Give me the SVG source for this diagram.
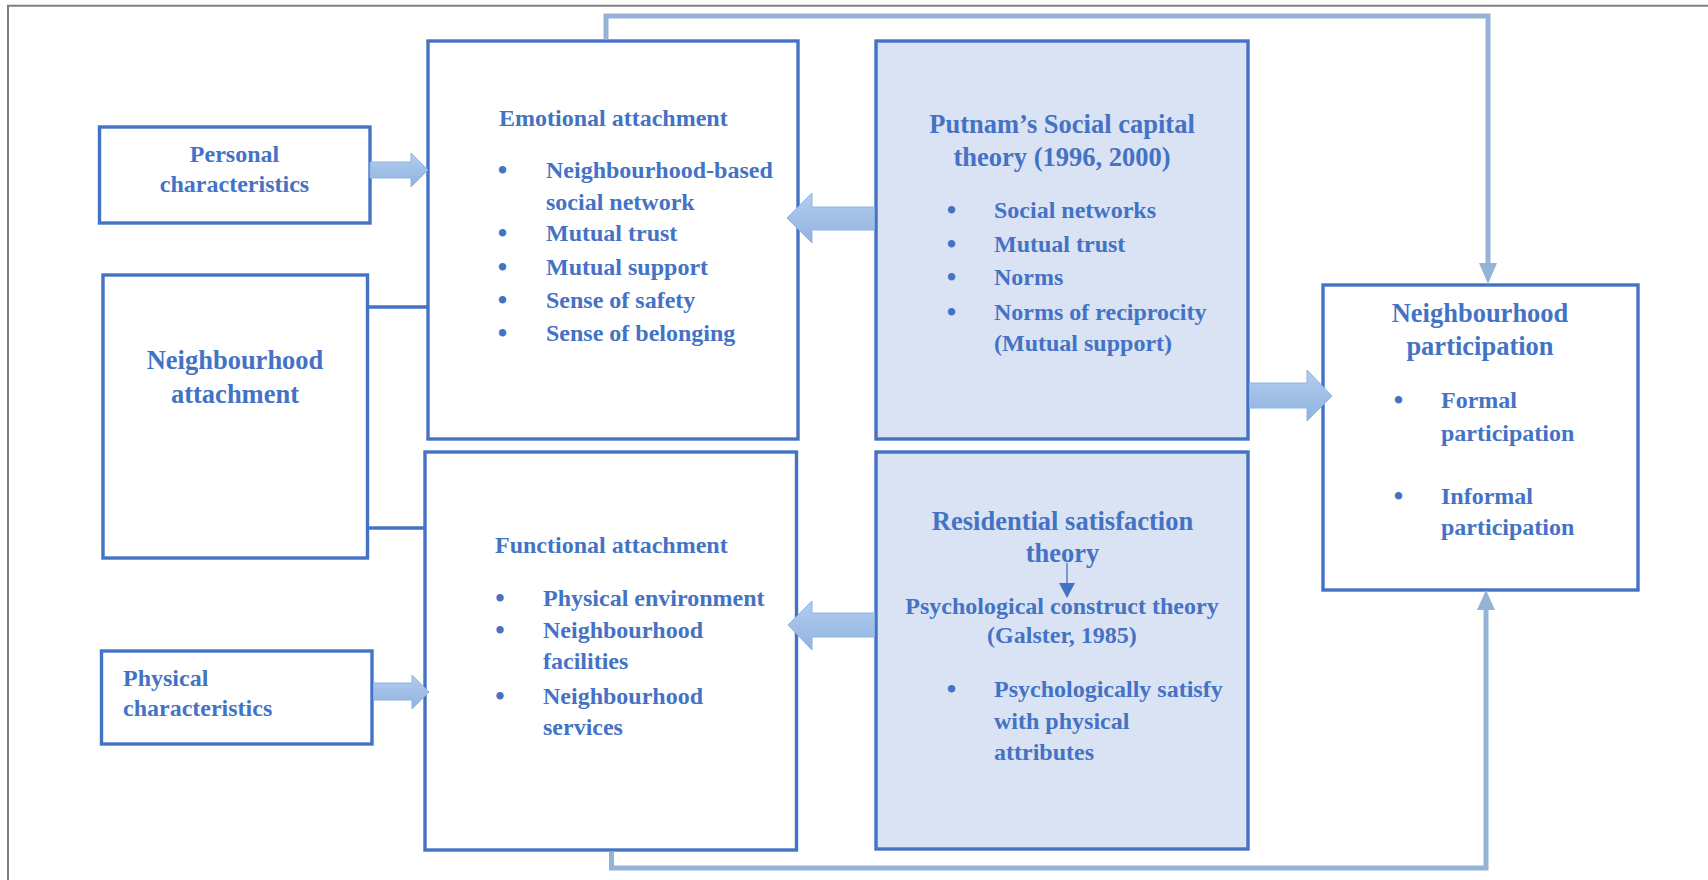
<svg xmlns="http://www.w3.org/2000/svg" width="1708" height="880" viewBox="0 0 1708 880">
  <defs>
    <style>
      .box { fill: #ffffff; stroke: #4472C4; stroke-width: 3.4; }
      .theory { fill: #DAE3F3; stroke: #4472C4; stroke-width: 3.4; }
      .t { font-family: "Liberation Serif", "Times New Roman", serif; font-weight: bold; fill: #4472C4; font-size: 24px; }
      .h { font-size: 26.5px; }
      .mid { text-anchor: middle; }
      .dot { font-size: 27px; }
      .link { fill: none; stroke: #4472C4; stroke-width: 3.4; }
      .loop { fill: none; stroke: #95B3D7; stroke-width: 5; stroke-linejoin: miter; }
      .loophead { fill: #95B3D7; }
      .block { fill: url(#blockFill); stroke: #8DB3E2; stroke-width: 1; }
    </style>
    <linearGradient id="blockFill" x1="0" y1="0" x2="0" y2="1">
      <stop offset="0" stop-color="#B3CDEE"/>
      <stop offset="1" stop-color="#8FB3E0"/>
    </linearGradient>
  </defs>

  <rect width="1708" height="880" fill="#ffffff"/>

  <!-- page frame -->
  <path d="M8,880 V5.7 H1708" fill="none" stroke="#7F7F7F" stroke-width="2"/>

  <g id="personal-characteristics">
    <rect class="box" x="99.5" y="127" width="270.5" height="96"/>
    <text class="t mid" x="234.5" y="162">Personal</text>
    <text class="t mid" x="234.5" y="192">characteristics</text>
  </g>

  <g id="neighbourhood-attachment">
    <rect class="box" x="103" y="275" width="264.5" height="283"/>
    <text class="t h mid" x="235" y="369">Neighbourhood</text>
    <text class="t h mid" x="235" y="403">attachment</text>
  </g>

  <g id="physical-characteristics">
    <rect class="box" x="101.5" y="651" width="270.5" height="93"/>
    <text class="t" x="123" y="686">Physical</text>
    <text class="t" x="123" y="716">characteristics</text>
  </g>

  <g id="emotional-attachment">
    <rect class="box" x="428" y="41" width="370" height="398"/>
    <text class="t" x="499" y="126">Emotional attachment</text>
    <text class="t mid dot" x="502.5" y="179">•</text>
    <text class="t" x="546" y="178">Neighbourhood-based</text>
    <text class="t" x="546" y="210">social network</text>
    <text class="t mid dot" x="502.5" y="242">•</text>
    <text class="t" x="546" y="241">Mutual trust</text>
    <text class="t mid dot" x="502.5" y="276">•</text>
    <text class="t" x="546" y="275">Mutual support</text>
    <text class="t mid dot" x="502.5" y="309">•</text>
    <text class="t" x="546" y="308">Sense of safety</text>
    <text class="t mid dot" x="502.5" y="342">•</text>
    <text class="t" x="546" y="341">Sense of belonging</text>
  </g>

  <g id="functional-attachment">
    <rect class="box" x="425" y="452" width="371.5" height="398"/>
    <text class="t" x="495" y="553">Functional attachment</text>
    <text class="t mid dot" x="500" y="607">•</text>
    <text class="t" x="543" y="606">Physical environment</text>
    <text class="t mid dot" x="500" y="639">•</text>
    <text class="t" x="543" y="638">Neighbourhood</text>
    <text class="t" x="543" y="669">facilities</text>
    <text class="t mid dot" x="500" y="705">•</text>
    <text class="t" x="543" y="704">Neighbourhood</text>
    <text class="t" x="543" y="735">services</text>
  </g>

  <g id="social-capital-theory">
    <rect class="theory" x="876" y="41" width="372" height="398"/>
    <text class="t h mid" x="1062" y="133">Putnam’s Social capital</text>
    <text class="t h mid" x="1062" y="166">theory (1996, 2000)</text>
    <text class="t mid dot" x="951.5" y="219">•</text>
    <text class="t" x="994" y="218">Social networks</text>
    <text class="t mid dot" x="951.5" y="253">•</text>
    <text class="t" x="994" y="252">Mutual trust</text>
    <text class="t mid dot" x="951.5" y="286">•</text>
    <text class="t" x="994" y="285">Norms</text>
    <text class="t mid dot" x="951.5" y="321">•</text>
    <text class="t" x="994" y="320">Norms of reciprocity</text>
    <text class="t" x="994" y="351">(Mutual support)</text>
  </g>

  <g id="residential-satisfaction-theory">
    <rect class="theory" x="876" y="452" width="372" height="397"/>
    <text class="t h mid" x="1062.5" y="530">Residential satisfaction</text>
    <text class="t h mid" x="1062.5" y="562">theory</text>
    <line x1="1067" y1="563" x2="1067" y2="585" stroke="#4472C4" stroke-width="1.3"/>
    <polygon points="1059,583 1075,583 1067,598" fill="#4472C4"/>
    <text class="t mid" x="1062" y="614">Psychological construct theory</text>
    <text class="t mid" x="1062" y="643">(Galster, 1985)</text>
    <text class="t mid dot" x="951.5" y="698">•</text>
    <text class="t" x="994" y="697">Psychologically satisfy</text>
    <text class="t" x="994" y="729">with physical</text>
    <text class="t" x="994" y="760">attributes</text>
  </g>

  <g id="neighbourhood-participation">
    <rect class="box" x="1323" y="285" width="315" height="305"/>
    <text class="t h mid" x="1480" y="322">Neighbourhood</text>
    <text class="t h mid" x="1480" y="355">participation</text>
    <text class="t mid dot" x="1398.5" y="409">•</text>
    <text class="t" x="1441" y="408">Formal</text>
    <text class="t" x="1441" y="441">participation</text>
    <text class="t mid dot" x="1398.5" y="505">•</text>
    <text class="t" x="1441" y="504">Informal</text>
    <text class="t" x="1441" y="535">participation</text>
  </g>

  <!-- connectors, drawn over the boxes so the arrow tips overlap the edges -->
  <g id="connectors">
    <line class="link" x1="367" y1="307" x2="428" y2="307"/>
    <line class="link" x1="367" y1="528" x2="425" y2="528"/>

    <polyline class="loop" points="606,39.5 606,16 1488,16 1488,265"/>
    <polygon class="loophead" points="1479,263 1497,263 1488,284"/>

    <polyline class="loop" points="611.5,851.5 611.5,868 1486,868 1486,609"/>
    <polygon class="loophead" points="1477,610 1495,610 1486,590"/>

    <polygon class="block" points="370,162 411,162 411,153 428,170 411,187 411,178 370,178"/>
    <polygon class="block" points="373.5,683 412,683 412,675 429,692 412,709 412,700 373.5,700"/>
    <polygon class="block" points="874.5,207 812,207 812,193 787,218 812,243 812,230 874.5,230"/>
    <polygon class="block" points="874.5,613 812,613 812,601 788,625 812,650 812,637 874.5,637"/>
    <polygon class="block" points="1249.5,383 1307,383 1307,370 1332,396 1307,421 1307,408 1249.5,408"/>
  </g>
</svg>
